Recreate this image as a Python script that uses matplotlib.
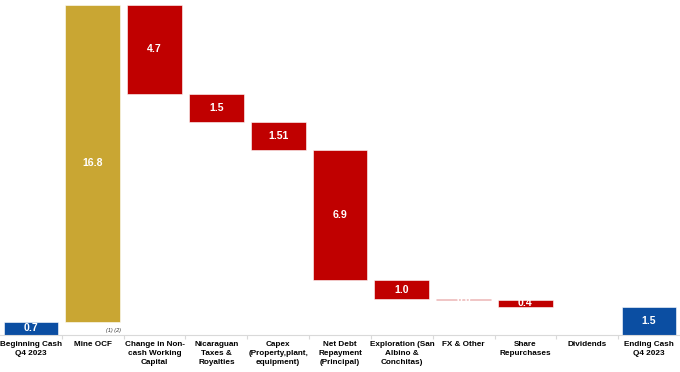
import matplotlib
matplotlib.use("Agg")
import matplotlib.pyplot as plt
import numpy as np

categories = ["Beginning Cash\nQ4 2023", "Mine OCF", "Change in Non-\ncash Working\nCapital",
              "Nicaraguan\nTaxes &\nRoyalties", "Capex\n(Property,plant,\nequipment)",
              "Net Debt\nRepayment\n(Principal)", "Exploration (San\nAlbino &\nConchitas)",
              "FX & Other", "Share\nRepurchases", "Dividends", "Ending Cash\nQ4 2023"]
values = [0.7, 16.8, -4.7, -1.5, -1.51, -6.9, -1.0, -0.02, -0.4, 0.0, 1.5]
labels = ["0.7", "16.8", "4.7", "1.5", "1.51", "6.9", "1.0", "0.0", "0.4", "", "1.5"]
kinds = ["total", "up", "down", "down", "down", "down", "down", "down", "down", "down", "total"]

colors = {"total": "#0B4EA2", "up": "#C9A633", "down": "#C00000"}

plt.rcParams['font.family'] = ['Liberation Sans', 'DejaVu Sans']

fig = plt.figure(figsize=(6.8, 3.72), dpi=100)
ax = fig.add_axes([0.0, 0.0995, 1.0, 0.887])

x = np.arange(len(categories))
running = 0.0
for i, (v, k, lab) in enumerate(zip(values, kinds, labels)):
    if k == "total":
        bottom, height = 0.0, v
        running = v
    elif v >= 0:
        bottom, height = running, v
        running += v
    else:
        bottom, height = running + v, -v
        running += v
    if height > 0:
        ax.bar(i, height, bottom=bottom, width=0.885, color=colors[k],
               edgecolor='white', linewidth=0.4, zorder=2)
    if lab:
        ax.text(i, bottom + height / 2, lab, ha='center', va='center', color='white',
                fontsize=7.6, fontweight='bold', zorder=3)

ax.set_xlim(-0.5, len(categories) - 0.5)
ax.set_ylim(0, 17.5)
ax.set_yticks([])
for s in ['top', 'right', 'left']:
    ax.spines[s].set_visible(False)
ax.spines['bottom'].set_color('#D9D9D9')
ax.spines['bottom'].set_linewidth(0.8)

ax.set_xticks(x)
ax.set_xticklabels(categories, fontsize=5.9, fontweight='bold', linespacing=1.45)
ax.tick_params(axis='x', length=0, pad=4)
ax.set_xticks(np.arange(len(categories) - 1) + 0.5, minor=True)
ax.tick_params(axis='x', which='minor', length=3, color='#D9D9D9', width=0.8)

ax.text(1.45, 0.12, "(1) (2)", fontsize=4, fontstyle='italic', ha='right', va='bottom', color='#333333')

fig.savefig("out.png", dpi=100)
